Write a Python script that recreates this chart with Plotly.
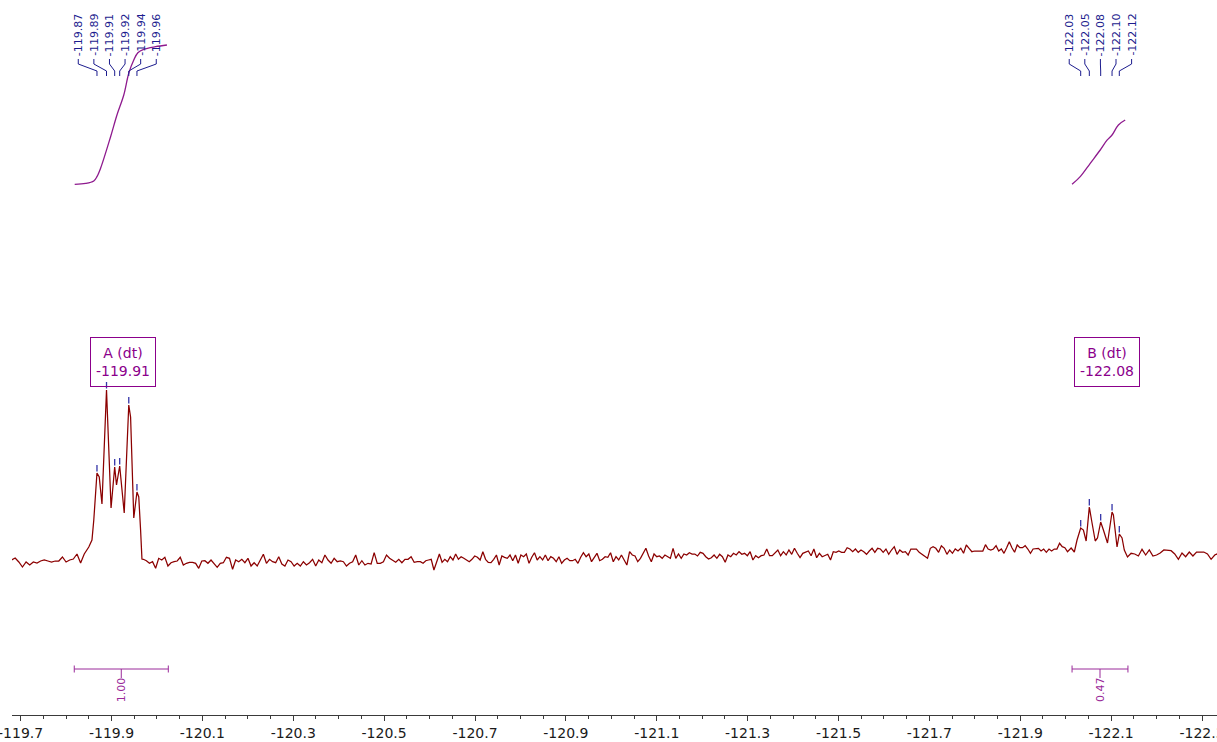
import numpy as np
import plotly.graph_objects as go

# ---------------- spectrum data (ppm, intensity) ----------------
seg1_range = (-119.680, -119.840)
seg1_int = [0, 2, -2, -7, -2, -5, -2, -3, -1, 0, -1, -2, -1, -1, 3, -2, 0, 1, 6, -3, 6]

peakA_ppm = [-119.850, -119.857, -119.861, -119.868, -119.873, -119.879, -119.889, -119.899,
             -119.907, -119.911, -119.918, -119.928, -119.938, -119.942, -119.949, -119.956,
             -119.960, -119.964, -119.967]
peakA_int = [13, 20, 40, 87, 83, 56, 170, 52, 93, 75, 94, 47, 155, 143, 42, 68, 63, 30, 1]

seg2_bounds = [-119.970, -120.5797, -121.1957, -121.8118, -122.004]
seg2a_int = [0.7, -0.7, -3.3, -1.7, -8.3, 1.7, 0, 2.7, -6, -2.7, -1.7, -1, 2.7, -5, -3.3, -2.3,
             -2.3, -3.3, -8.3, -1, -0.7, -3.3, 0, -3.3, -7.3, -3.3, -2.7, 2.7, 1.7, -9.3, 0,
             -1.7, 0.7, -2.7, 1.7, -6, -2.7, -6, 0, 5.7, -3.3, 0.7, -1.7, -2.7, 3.3, -4, -6,
             0, -1.7, -6, -3.3, -6, -1.7, -5, -2.7, 0.7, -6, 0, -2.7, 5, 0, -3.3, 1.7, -1.7,
             -1, -1.7, -6, -3.3, -1.7, 5, -5, -0.7, -5, -3.3, -4, 7.3, -3.3, -3.3, -1.7, 5,
             1.7, 0, -2.3, 0.7, -2.7, 0.7, 0.7, 3.3, -2.3, -1.7]
seg2b_int = [-1.7, -3.3, -0.7, 0, 0.7, -10, -1.7, 6, -2.3, 0.7, -1.7, 3.3, 0, 6, 0.7, 3.3, 1.7,
             0, -1.7, 0.7, 4, 2.7, 0, 8.3, 0.7, -2.3, -2.7, 0.7, 5, -5, 4, 2.7, 1.7, 5, -0.7,
             5, -3.3, 5, 3.3, 6, -3.3, 2.7, 7.3, 0, 3.3, 0, 5, -0.7, 3.3, 1.7, -1.7, 3.3, -3.3,
             0, 1.7, -0.7, -0.7, 0.7, -3.3, 2.7, 7.3, 3.3, 6, -1.7, 2.7, 6.7, -0.7, 0.7, 3.3,
             2.7, 7.3, -1.7, 3.3, 0, 5, 0.7, -5, 8.3, 5, 4, -1.7, 1.7, 6, 11.7, 4, -1.7, 6,
             3.3, 4, 1.7, 5, 3.3, 1.7, 11.7, 1.7, 6, 1.7, 6, 5, 7.3, 6, 6, 4]
seg2c_int = [7.7, 6.7, 3.3, 1, 2.3, 5, 1.7, 5.7, 3.3, -2.3, 5, 3.3, 6.7, 5, 8.3, 5.7, 6.7, 4.3,
             8.3, 0, 4.3, 2.3, 4.3, 5, 11, 4.3, 4.3, 6.7, 10, 4.3, 8.3, 5, 10, 5.7, 11.7, 6.7,
             2.3, 6.7, 7.7, 9, 4.3, 11, 2.3, 6.7, 3.3, 4.3, 5.7, 0, 8.3, 7.7, 9, 7.7, 7.7,
             12.3, 11, 8.3, 11, 7.7, 10, 8.3, 5.7, 9, 11.7, 7.7, 11.7, 11, 7.7, 11, 5.7, 10,
             13.3, 5.7, 10, 7.7, 8.3, 5, 11, 11, 11, 7.7, 5.7, 4.3, 1.7, 11.7, 13.3, 11.7,
             7.7, 14.3, 11.7, 5.7, 10, 6.7, 11, 9, 11.7, 6.7, 15, 11.7, 8.3, 9, 9]
seg2d_int = [9, 9, 15.3, 11, 10, 11, 14.3, 9, 11, 6.7, 12.3, 18.3, 12.3, 7.7, 15, 12.3, 12.3,
             14.3, 11, 6.7, 11, 11, 11.7, 9, 11, 7.7, 11, 9, 11, 11, 16.7, 13.3, 12.3, 8.3]

peakB_ppm = [-122.012, -122.019, -122.025, -122.033, -122.039, -122.045, -122.052, -122.058,
             -122.065, -122.070, -122.077, -122.083, -122.092, -122.102, -122.105, -122.113,
             -122.118, -122.124, -122.129, -122.136]
peakB_int = [12, 8, 20, 32, 30, 19, 53, 37, 19, 22, 38, 30, 17, 48, 45, 13, 26, 22, 10, 3]

seg3_range = (-122.144, -122.336)
seg3_int = [6.7, 6, 4, 10.7, 5, 10, 4, 5, 7, 10, 10, 9.3, 6, 0.7, 7, 3.3, 8, 4, 8, 8, 8, 6,
            0.7, 5, 6.7]

# ---------------- peak picking ----------------
peaks_A = [-119.868, -119.889, -119.907, -119.918, -119.938, -119.956]
peaks_B = [-122.033, -122.052, -122.077, -122.102, -122.118]

# ---------------- integrals ----------------
integA_ppm = [-119.819, -119.843, -119.861, -119.868, -119.876, -119.898, -119.912, -119.927,
              -119.938, -119.949, -119.958, -119.971, -119.997, -120.022]
integA_val = [0.005, 0.011, 0.029, 0.06, 0.12, 0.345, 0.5, 0.643, 0.798, 0.893, 0.945, 0.969,
              0.988, 1.0]
integB_ppm = [-122.014, -122.032, -122.054, -122.076, -122.091, -122.102, -122.116, -122.131]
integB_val = [0.005, 0.06, 0.155, 0.25, 0.32, 0.357, 0.429, 0.464]

integ_ranges = [(-119.818, -120.025), (-122.014, -122.137)]
integ_values = [1.00, 0.47]

# ---------------- multiplets ----------------
mult_names = ["A", "B"]
mult_types = ["dt", "dt"]
mult_centers = [-119.91, -122.08]

# ---------------- axis ticks ----------------
major_ticks = [-119.7, -119.9, -120.1, -120.3, -120.5, -120.7, -120.9, -121.1, -121.3,
               -121.5, -121.7, -121.9, -122.1, -122.3]
major_text = ["-119.7", "-119.9", "-120.1", "-120.3", "-120.5", "-120.7", "-120.9", "-121.1",
              "-121.3", "-121.5", "-121.7", "-121.9", "-122.1", "-122.3"]

# ================= build =================
ppm = np.concatenate([
    np.linspace(seg1_range[0], seg1_range[1], len(seg1_int)),
    peakA_ppm,
    np.linspace(seg2_bounds[0], seg2_bounds[1], len(seg2a_int), endpoint=False),
    np.linspace(seg2_bounds[1], seg2_bounds[2], len(seg2b_int), endpoint=False),
    np.linspace(seg2_bounds[2], seg2_bounds[3], len(seg2c_int), endpoint=False),
    np.linspace(seg2_bounds[3], seg2_bounds[4], len(seg2d_int)),
    peakB_ppm,
    np.linspace(seg3_range[0], seg3_range[1], len(seg3_int)),
])
inten = np.concatenate([seg1_int, peakA_int, seg2a_int, seg2b_int, seg2c_int, seg2d_int,
                        peakB_int, seg3_int]).astype(float)

SPEC = "#8b0000"
INTEG = "#8e1a8e"
PURPLE = "#8b008b"
NAVY = "#1c1c8e"
FONT = "DejaVu Sans"

fig = go.Figure()
fig.add_trace(go.Scatter(x=ppm, y=inten, mode="lines", line=dict(color=SPEC, width=1.25),
                         hoverinfo="skip", showlegend=False))
fig.add_trace(go.Scatter(x=integA_ppm, y=integA_val, mode="lines", yaxis="y2",
                         line=dict(color=INTEG, width=1.3, shape="spline"),
                         hoverinfo="skip", showlegend=False))
fig.add_trace(go.Scatter(x=integB_ppm, y=integB_val, mode="lines", yaxis="y2",
                         line=dict(color=INTEG, width=1.3, shape="spline"),
                         hoverinfo="skip", showlegend=False))

shapes = []
annotations = []

H = 715.0
def py(px):  # pixel row from top of plot area -> paper fraction
    return (H - px) / H

sort_ppm = ppm[::-1]
sort_int = inten[::-1]
spread = 15.6 / 454.5
for group in (peaks_A, peaks_B):
    n = len(group)
    center = float(np.mean(group))
    for i, p in enumerate(group):
        h = float(np.interp(p, sort_ppm, sort_int))
        shapes.append(dict(type="line", xref="x", yref="y", x0=p, x1=p, y0=h + 1.5, y1=h + 8,
                           line=dict(color="#3434a8", width=1.3)))
        lx = center - spread * (i - (n - 1) / 2)
        shapes.append(dict(type="path", xref="x", yref="paper",
                           path=f"M {lx},{py(59)} L {lx},{py(64)} L {p},{py(71)} L {p},{py(76)}",
                           line=dict(color=NAVY, width=1)))
        annotations.append(dict(x=lx, y=py(35), xref="x", yref="paper", text=f"{p:.2f}",
                                textangle=-90, showarrow=False, xanchor="center",
                                yanchor="middle", font=dict(family=FONT, size=11, color=NAVY)))

# multiplet boxes
for name, mt, c, xs in zip(mult_names, mult_types, mult_centers, [7, 5]):
    annotations.append(dict(x=c, y=py(362.3), xref="x", yref="paper", xshift=xs,
                            text=f"{name} ({mt})<br>{c:.2f}", showarrow=False,
                            xanchor="center", yanchor="middle", align="center",
                            width=58, height=42, borderpad=3, borderwidth=1,
                            bordercolor=PURPLE, bgcolor="rgba(255,255,255,0)",
                            font=dict(family=FONT, size=14, color=PURPLE)))

# integral bars
BAR = "#9a2a9a"
for (a, b), v in zip(integ_ranges, integ_values):
    m = (a + b) / 2
    shapes.append(dict(type="line", xref="x", yref="paper", x0=a, x1=b, y0=py(669), y1=py(669),
                       line=dict(color=BAR, width=1)))
    for e in (a, b):
        shapes.append(dict(type="line", xref="x", yref="paper", x0=e, x1=e, y0=py(665.5),
                           y1=py(672.5), line=dict(color=BAR, width=1)))
    shapes.append(dict(type="line", xref="x", yref="paper", x0=m, x1=m, y0=py(669),
                       y1=py(678), line=dict(color=BAR, width=1)))
    annotations.append(dict(x=m, y=py(690), xref="x", yref="paper", text=f"{v:.2f}",
                            textangle=-90, showarrow=False, xanchor="center", yanchor="middle",
                            font=dict(family=FONT, size=11, color=BAR)))

fig.update_layout(
    width=1217, height=742,
    margin=dict(l=12, r=0, t=0, b=27, pad=0),
    paper_bgcolor="white", plot_bgcolor="white",
    showlegend=False,
    shapes=shapes, annotations=annotations,
    xaxis=dict(range=[-119.681, -122.333], showgrid=False, zeroline=False,
               showline=True, linecolor="#3a3a3a", linewidth=1,
               ticks="outside", ticklen=5, tickwidth=1, tickcolor="#3a3a3a",
               tickmode="array", tickvals=major_ticks, ticktext=major_text,
               ticklabeloverflow="allow",
               tickfont=dict(family=FONT, size=14, color="#1a1a1a"),
               minor=dict(ticks="outside", ticklen=3, tickwidth=1, tickcolor="#3a3a3a",
                          dtick=0.05, tick0=-119.7, showgrid=False),
               automargin=False, fixedrange=True),
    yaxis=dict(range=[-155, 560], visible=False, fixedrange=True),
    yaxis2=dict(range=[-3.7857, 1.3214], visible=False, overlaying="y", fixedrange=True),
)

fig.write_html("out.html")
